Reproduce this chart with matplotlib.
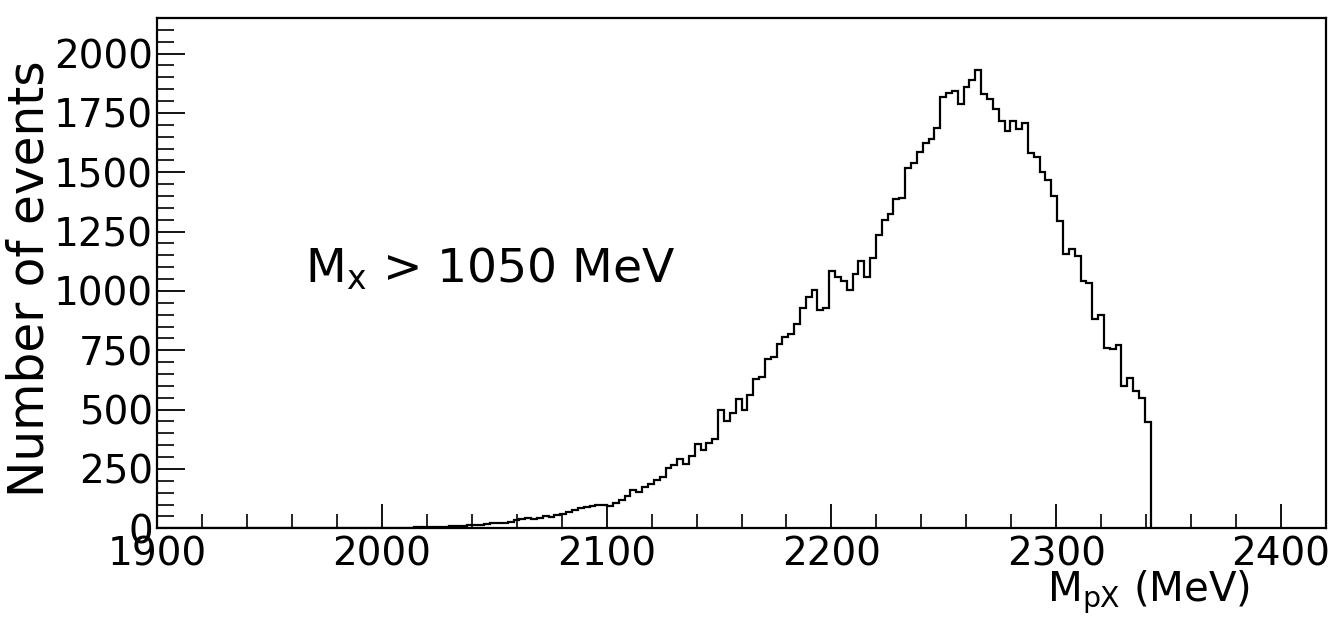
import numpy as np
import matplotlib.pyplot as plt
from matplotlib.ticker import MultipleLocator

# histogram: 200 bins of 2.6 MeV from 1900 to 2420, filled only up to bin 169
bin_lo = 1900.0
bin_width = 2.6
first_bin = 38
counts = [
    1, 1, 2, 2, 3, 3, 4, 5, 4, 6, 7, 6,
    8, 10, 9, 12, 14, 13, 18, 20, 24, 22, 28, 33,
    40, 42, 37, 45, 50, 48, 55, 62, 70, 78, 85, 88,
    92, 100, 96, 94, 108, 118, 135, 160, 152, 172, 185, 205,
    218, 255, 268, 292, 272, 305, 355, 330, 358, 375,
    500, 450, 486, 546, 500, 560, 630, 637, 714, 721, 775, 806, 820, 862,
    929, 974, 1002, 921, 929, 1083, 1058, 1041, 1005, 1072, 1124, 1058, 1138,
    1236, 1300, 1325, 1388, 1390, 1519, 1538, 1584, 1625, 1640, 1687,
    1816, 1833, 1844, 1788, 1861, 1889, 1930, 1831, 1810, 1767, 1714, 1672,
    1718, 1683, 1708, 1580, 1566, 1500, 1468,
    1400, 1293, 1157, 1178, 1149, 1040, 1035, 883, 897, 759, 757, 770,
    598, 634, 578, 549, 448,
]

values = np.concatenate([np.zeros(first_bin), counts])
edges = bin_lo + bin_width * np.arange(len(values) + 1)

fig = plt.figure(figsize=(13.34, 6.2), dpi=100)
ax = fig.add_axes([0.1177, 0.148, 0.8763, 0.823])

ax.stairs(values, edges, color='black', linewidth=1.6)

ax.set_xlim(1900, 2420)
ax.set_ylim(0, 2150)

ax.xaxis.set_major_locator(MultipleLocator(100))
ax.xaxis.set_minor_locator(MultipleLocator(20))
ax.yaxis.set_major_locator(MultipleLocator(250))
ax.yaxis.set_minor_locator(MultipleLocator(50))

ax.tick_params(axis='x', which='major', direction='in', length=17, width=1.3,
               labelsize=28, pad=5)
ax.tick_params(axis='x', which='minor', direction='in', length=10, width=1.2)
ax.tick_params(axis='y', which='major', direction='in', length=20, width=1.3,
               labelsize=28, pad=3)
ax.tick_params(axis='y', which='minor', direction='in', length=12, width=1.2)
for s in ax.spines.values():
    s.set_linewidth(1.6)

# y title hugs the left edge, as in the original
fig.text(0.004, 0.55, 'Number of events', fontsize=35, rotation=90,
         ha='left', va='center')
ax.set_xlabel(r'M$_{\rm pX}$ (MeV)', fontsize=29, ha='right', va='top')
ax.xaxis.set_label_coords(0.935, -0.08)

ax.text(1966, 1090, r'M$_{\rm x}$ > 1050 MeV', fontsize=34, va='center')

fig.savefig('out.png', dpi=100)
